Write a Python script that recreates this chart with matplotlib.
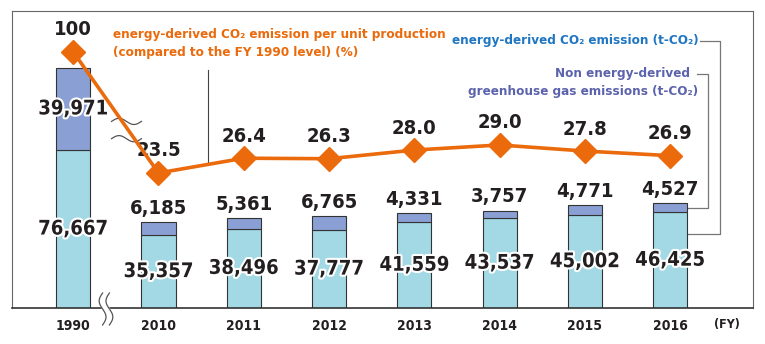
import numpy as np
import matplotlib
matplotlib.use('Agg')
import matplotlib.pyplot as plt
import matplotlib.patheffects as pe

FONT = ['DejaVu Sans']
plt.rcParams['font.family'] = FONT
plt.rcParams['font.stretch'] = 'condensed'

years = ['1990', '2010', '2011', '2012', '2013', '2014', '2015', '2016']
energy_co2 = [76667, 35357, 38496, 37777, 41559, 43537, 45002, 46425]
non_energy = [39971, 6185, 5361, 6765, 4331, 3757, 4771, 4527]
per_unit = [100, 23.5, 26.4, 26.3, 28.0, 29.0, 27.8, 26.9]

DARK = '#231f20'
ORANGE = '#ea6a0c'
LIGHT_BLUE = '#a2d9e5'
PURPLE = '#8a9fd3'
BLUE_TXT = '#1f76c2'
PURPLE_TXT = '#5c63ad'
halo = [pe.withStroke(linewidth=3, foreground='white')]
NUM = 14.5

fig = plt.figure(figsize=(7.65, 3.44), dpi=100)
ax = fig.add_axes([12 / 765, 36 / 344, 741 / 765, 297 / 344])
x = np.arange(len(years))
W = 0.40

ax.bar(x, energy_co2, W, color=LIGHT_BLUE, edgecolor='#333333', linewidth=0.8, zorder=2)
ax.bar(x, non_energy, W, bottom=energy_co2, color=PURPLE, edgecolor='#333333', linewidth=0.8, zorder=2)
ax.set_xlim(-0.717, 7.97)
ax.set_ylim(0, 144200)

for i in range(len(years)):
    ax.text(x[i], energy_co2[i] / 2, f'{energy_co2[i]:,}', ha='center', va='center',
            fontsize=NUM, fontweight='bold', color=DARK, path_effects=halo, zorder=5)
    if i == 0:
        ax.text(x[i], energy_co2[i] + non_energy[i] / 2, f'{non_energy[i]:,}', ha='center',
                va='center', fontsize=NUM, fontweight='bold', color=DARK, path_effects=halo, zorder=5)
    else:
        ax.annotate(f'{non_energy[i]:,}', (x[i], energy_co2[i] + non_energy[i]),
                    xytext=(0, 3), textcoords='offset points', ha='center', va='bottom',
                    fontsize=NUM, fontweight='bold', color=DARK, zorder=5)

ax.set_xticks(x, years)
ax.tick_params(axis='x', length=0, pad=8, labelsize=10, labelcolor=DARK)
for lab in ax.get_xticklabels():
    lab.set_fontweight('bold')
ax.set_yticks([])
for s in ['top', 'left', 'right']:
    ax.spines[s].set_color('#666666')
ax.spines['bottom'].set_color('#333333')
ax.spines['bottom'].set_linewidth(1.2)
ax.text(7.66, -0.057, '(FY)', transform=ax.get_xaxis_transform(), ha='center', va='center',
        fontsize=9, fontweight='bold', color=DARK)

# broken scale for the 1990 point of the line
K = 0.247
def fwd(v):
    v = np.asarray(v, dtype=float)
    return np.where(v <= 30, v, 30 + (v - 30) * K)
def inv(v):
    v = np.asarray(v, dtype=float)
    return np.where(v <= 30, v, 30 + (v - 30) / K)

ax2 = ax.twinx()
ax2.set_yscale('function', functions=(fwd, inv))
ax2.set_ylim(-3.0, 132.4)
ax2.set_yticks([])
ax2.yaxis.set_minor_locator(matplotlib.ticker.NullLocator())
for s in ax2.spines.values():
    s.set_visible(False)
ax2.plot(x, per_unit, color=ORANGE, linewidth=2.6, marker='D', markersize=12, zorder=4)
for i, v in enumerate(per_unit):
    ax2.annotate(f'{v:g}' if i == 0 else f'{v:.1f}', (x[i], v), xytext=(0, 9),
                 textcoords='offset points', ha='center', va='bottom',
                 fontsize=NUM, fontweight='bold', color=DARK)

# break marks
t = np.linspace(0, 1, 50)
for dy in (-4200, 4200):
    ax.plot(0.45 + 0.35 * t, 86400 + dy + 1500 * np.sin(2 * np.pi * t), color='#555555',
            linewidth=0.9, zorder=3)
yy = np.linspace(-8250, 7300, 50)
s = np.linspace(0, 1, 50)
ax.fill_betweenx(yy, 0.345 + 0.04 * np.sin(2 * np.pi * s), 0.425 + 0.04 * np.sin(2 * np.pi * s),
                 color='white', zorder=3, clip_on=False)
for dx in (0.345, 0.425):
    ax.plot(dx + 0.04 * np.sin(2 * np.pi * s), yy, color='#555555', linewidth=0.9,
            zorder=3, clip_on=False)

# labels and leader lines
LBL = 9.6
ax.text(0.136, 0.942, 'energy-derived CO₂ emission per unit production\n(compared to the FY 1990 level) (%)',
        transform=ax.transAxes, ha='left', va='top', fontsize=LBL, fontweight='bold',
        color=ORANGE, linespacing=1.45)
ax.plot([1.58, 1.58], [70400, 115500], color='#444444', linewidth=0.8, zorder=1)

ax.text(0.926, 0.899, 'energy-derived CO₂ emission (t-CO₂)', transform=ax.transAxes,
        ha='right', va='center', fontsize=LBL, fontweight='bold', color=BLUE_TXT)
ax.text(0.926, 0.759, 'Non energy-derived  \ngreenhouse gas emissions (t-CO₂)', transform=ax.transAxes,
        ha='right', va='center', fontsize=LBL, fontweight='bold', color=PURPLE_TXT,
        linespacing=1.45)
xi = len(years) - 1
ax.plot([xi + 0.35, xi + 0.58, xi + 0.58, xi + W / 2],
        [129600, 129600, energy_co2[xi] * 0.77, energy_co2[xi] * 0.77],
        color='#777777', linewidth=0.9, zorder=1)
ax.plot([xi + 0.31, xi + 0.44, xi + 0.44, xi + W / 2],
        [113600, 113600, energy_co2[xi] + non_energy[xi] / 2, energy_co2[xi] + non_energy[xi] / 2],
        color='#777777', linewidth=0.9, zorder=1)

fig.savefig('out.png', dpi=100)
